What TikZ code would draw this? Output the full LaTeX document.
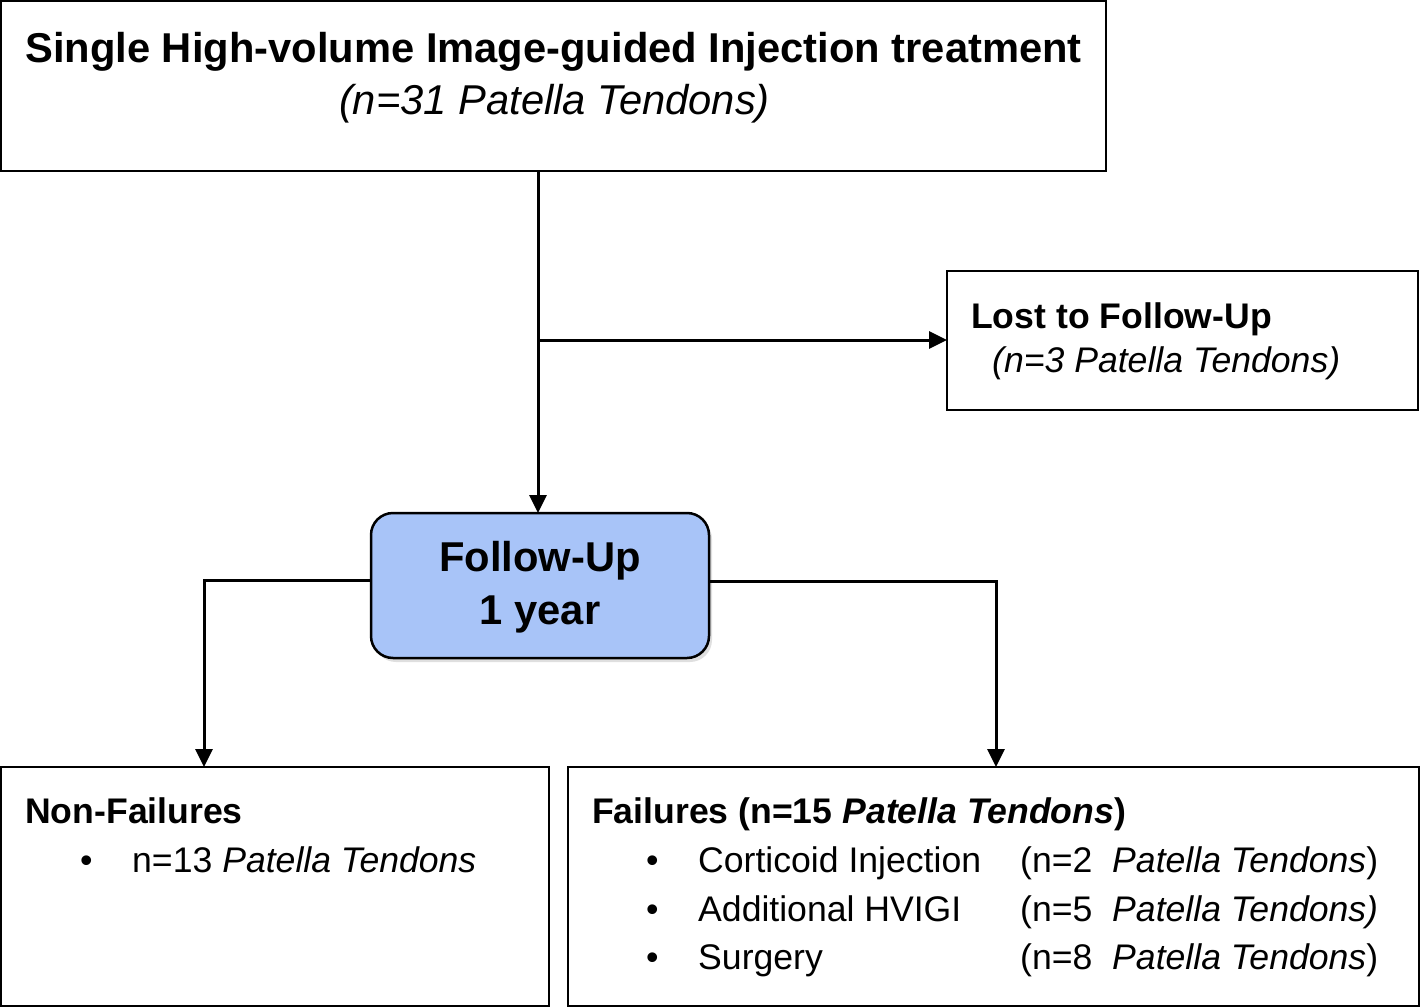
\documentclass[tikz,border=0pt]{standalone}
\usepackage{fontspec}
\setmainfont{Liberation Sans}
\usetikzlibrary{arrows.meta,shadows}
\definecolor{fublue}{RGB}{168,196,248}
\begin{document}
\begin{tikzpicture}[x=1pt,y=-1pt,
  boxstyle/.style={draw=black, line width=2.5pt, rectangle, inner sep=0pt, outer sep=0pt},
  conn/.style={line width=3pt, -{Triangle[length=18pt,width=17pt]}},
  bigb/.style={font=\fontsize{41.7}{50}\selectfont\bfseries, inner sep=0pt},
  bigi/.style={font=\fontsize{41.7}{50}\selectfont\itshape, inner sep=0pt},
  txt/.style={font=\fontsize{35.6}{43}\selectfont, inner sep=0pt, anchor=base west},
  txtb/.style={txt, font=\fontsize{35.6}{43}\selectfont\bfseries},
]
\useasboundingbox (0,0) rectangle (1420,1008);

% boxes
\node[boxstyle, minimum width=1105pt, minimum height=170pt] (top) at (553.5,86) {};
\node[boxstyle, minimum width=471pt, minimum height=139pt] (lost) at (1182.5,340.5) {};
\node[boxstyle, fill=fublue, rounded corners=22pt, minimum width=338pt, minimum height=145pt,
      drop shadow={opacity=0.25, shadow xshift=3pt, shadow yshift=-4pt}] (follow) at (540,585.5) {};
\node[boxstyle, minimum width=548pt, minimum height=239pt] (nonfail) at (275,886.5) {};
\node[boxstyle, minimum width=851pt, minimum height=239pt] (fail) at (993.5,886.5) {};

% texts
\node[bigb, anchor=base] (t1) at (553.5,63) {Single High-volume Image-guided Injection treatment};
\node[bigi, anchor=base] (t2) at (554.5,115) {(n=31 Patella Tendons)};

\node[txtb] (l1) at (971,328) {Lost to Follow-Up};
\node[txt, font=\fontsize{35.6}{43}\selectfont\itshape] (l2) at (992,372) {(n=3 Patella Tendons)};

\node[bigb, anchor=base] (f1) at (540,571) {Follow-Up};
\node[bigb, anchor=base] (f2) at (540,624) {1 year};

\node[txtb] (n1) at (25,823) {Non-Failures};
\node[txt] (nb) at (80,872) {•};
\node[txt] (n2) at (132,872) {n=13 \textit{Patella Tendons}};

\node[txtb] (fa) at (592,823) {Failures (n=15 \textit{Patella Tendons})};
\node[txt] (fb1) at (646,872) {•};
\node[txt] (fi1) at (698,872) {Corticoid Injection};
\node[txt] (fn1) at (1020,872) {(n=2\ \ \textit{Patella Tendons})};
\node[txt] (fb2) at (646,921) {•};
\node[txt] (fi2) at (698,921) {Additional HVIGI};
\node[txt] (fn2) at (1020,921) {(n=5\ \ \textit{Patella Tendons)}};
\node[txt] (fb3) at (646,969) {•};
\node[txt] (fi3) at (698,969) {Surgery};
\node[txt] (fn3) at (1020,969) {(n=8\ \ \textit{Patella Tendons})};

% connectors
\coordinate (j) at (538,340);
\coordinate (cL) at (204,580);
\coordinate (cR) at (996,581);
\draw[conn] (top.south -| j) -- (follow.north -| j);
\draw[conn] (j) -- (lost.west |- j);
\draw[conn] (follow.west |- cL) -- (cL) -- (cL |- nonfail.north);
\draw[conn] (follow.east |- cR) -- (cR) -- (cR |- fail.north);
\end{tikzpicture}
\end{document}
